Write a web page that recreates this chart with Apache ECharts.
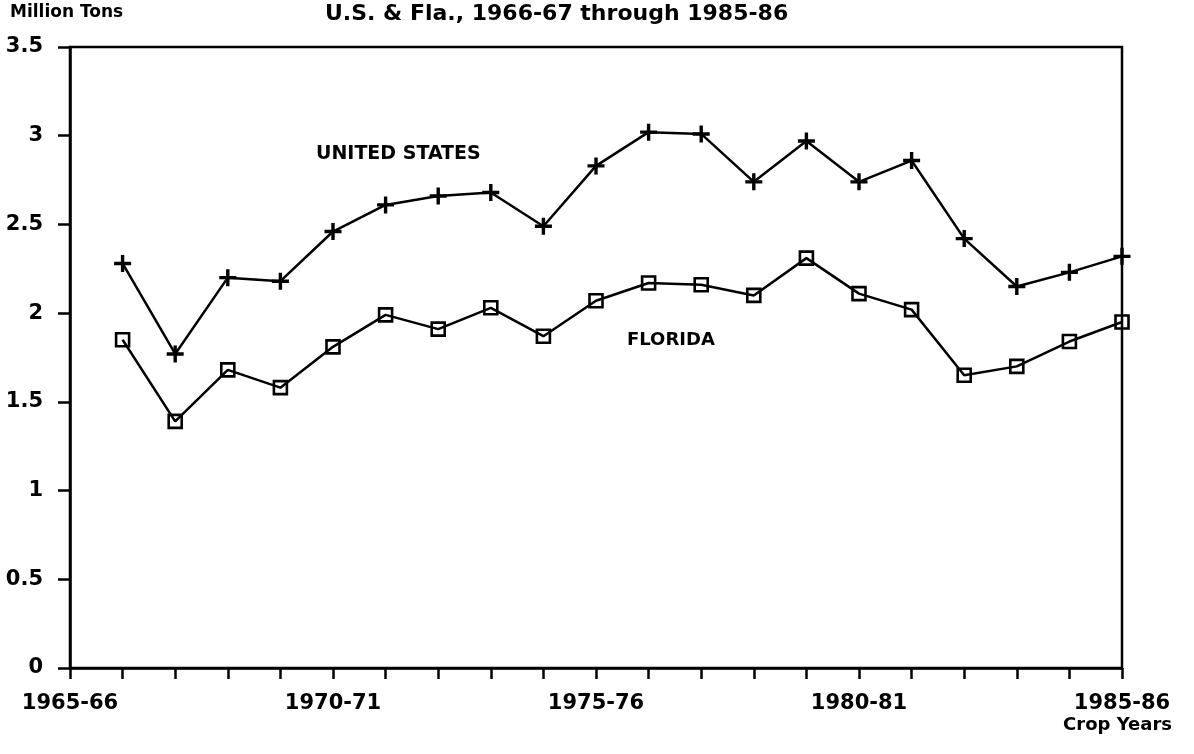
<!DOCTYPE html>
<html>
<head>
<meta charset="utf-8">
<script src="https://cdn.jsdelivr.net/npm/echarts@6/dist/echarts.min.js"></script>
<style>
  html, body { margin: 0; padding: 0; background: #fff; }
  #chart { width: 1194px; height: 754px; }
</style>
</head>
<body>
<div id="chart"></div>
<script>
// crop years on the x axis, 1965-66 is the empty start
const cropYears = ['1965-66', '1966-67', '1967-68', '1968-69', '1969-70', '1970-71',
  '1971-72', '1972-73', '1973-74', '1974-75', '1975-76', '1976-77', '1977-78',
  '1978-79', '1979-80', '1980-81', '1981-82', '1982-83', '1983-84', '1984-85', '1985-86']

// million tons, 1966-67 through 1985-86
const unitedStates = [2.28, 1.77, 2.20, 2.18, 2.46, 2.61, 2.66, 2.68, 2.49, 2.83,
  3.02, 3.01, 2.74, 2.97, 2.74, 2.86, 2.42, 2.15, 2.23, 2.32]
const florida = [1.85, 1.39, 1.68, 1.58, 1.81, 1.99, 1.91, 2.03, 1.87, 2.07,
  2.17, 2.16, 2.10, 2.31, 2.11, 2.02, 1.65, 1.70, 1.84, 1.95]

const font = 'DejaVu Sans'
const plus = 'path://M-2,-10 L2,-10 L2,-2 L10,-2 L10,2 L2,2 L2,10 L-2,10 L-2,2 L-10,2 L-10,-2 L-2,-2 Z'

const pairs = (vals) => vals.map((v, i) => [cropYears[i + 1], v])

var myChart = echarts.init(document.getElementById('chart'))

var option = {
  backgroundColor: '#fff',
  animation: false,
  grid: {
    left: 70,
    right: 72,
    top: 47,
    bottom: 86,
    show: true,
    borderColor: '#000',
    borderWidth: 2.5
  },
  xAxis: {
    type: 'category',
    data: cropYears,
    boundaryGap: false,
    axisLine: { lineStyle: { color: '#000', width: 2.5 } },
    axisTick: { interval: 0, length: 11, lineStyle: { color: '#000', width: 2.5 } },
    axisLabel: {
      interval: 4,
      margin: 25,
      color: '#000',
      fontFamily: font,
      fontWeight: 'bold',
      fontSize: 21
    },
    splitLine: { show: false }
  },
  yAxis: {
    type: 'value',
    min: 0,
    max: 3.5,
    interval: 0.5,
    axisLine: { show: true, lineStyle: { color: '#000', width: 2.5 } },
    axisTick: { show: true, length: 12, lineStyle: { color: '#000', width: 2.5 } },
    axisLabel: {
      margin: 27,
      color: '#000',
      fontFamily: font,
      fontWeight: 'bold',
      fontSize: 21
    },
    splitLine: { show: false }
  },
  series: [
    {
      name: 'UNITED STATES',
      type: 'line',
      data: pairs(unitedStates),
      symbol: plus,
      symbolSize: 17,
      showAllSymbol: true,
      lineStyle: { color: '#000', width: 2.5 },
      itemStyle: { color: '#000' },
      z: 3
    },
    {
      name: 'FLORIDA',
      type: 'line',
      data: pairs(florida),
      symbol: 'rect',
      symbolSize: 13,
      showAllSymbol: true,
      lineStyle: { color: '#000', width: 2.5 },
      itemStyle: { color: 'rgba(0,0,0,0)', borderColor: '#000', borderWidth: 2.6 },
      z: 3
    }
  ],
  graphic: [
    {
      type: 'text', left: 10, top: 4,
      style: { text: 'Million Tons', font: 'bold 17px "DejaVu Sans"', fill: '#000' }
    },
    {
      type: 'text', left: 325, top: 3,
      style: { text: 'U.S. & Fla., 1966-67 through 1985-86', font: 'bold 22px "DejaVu Sans"', fill: '#000' }
    },
    {
      type: 'text', left: 316, top: 145,
      style: { text: 'UNITED STATES', font: 'bold 19px "DejaVu Sans"', fill: '#000' }
    },
    {
      type: 'text', left: 627, top: 331,
      style: { text: 'FLORIDA', font: 'bold 18px "DejaVu Sans"', fill: '#000' }
    },
    {
      type: 'text', right: 22, top: 716,
      style: { text: 'Crop Years', font: 'bold 18px "DejaVu Sans"', fill: '#000' }
    }
  ]
}

option && myChart.setOption(option)
</script>
</body>
</html>
